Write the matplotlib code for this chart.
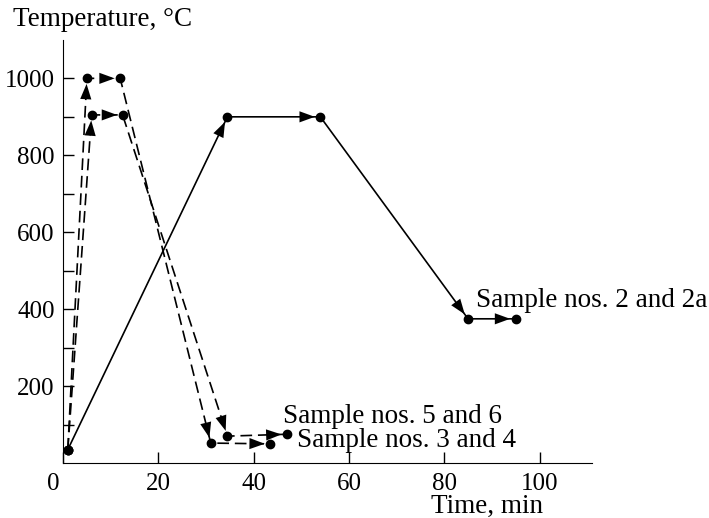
import matplotlib
matplotlib.use("Agg")
import matplotlib.pyplot as plt
from matplotlib.transforms import ScaledTranslation

plt.rcParams['font.family'] = ['Liberation Serif', 'DejaVu Serif']

# Data (time in min, temperature in °C)
t_s2 = [1, 34.5, 54, 85, 95]
T_s2 = [35, 900, 900, 375, 375]

t_s34 = [1, 5, 12, 31, 43.5]
T_s34 = [35, 1000, 1000, 52, 50]

t_s56 = [1, 6, 12.5, 34.5, 47]
T_s56 = [35, 905, 905, 70, 75]

xticks = [0, 20, 40, 60, 80, 100]
yticks = [200, 400, 600, 800, 1000]

labels = ["Sample nos. 2 and 2a", "Sample nos. 5 and 6", "Sample nos. 3 and 4"]
label_pos = [(86.6, 423), (46.1, 120), (49.1, 58)]

fig = plt.figure(figsize=(7.09, 5.18), dpi=100)
ax = fig.add_axes([0.0889, 0.106, 0.746, 0.817])

def draw(ts, Ts, dashed):
    ls = (0, (7, 3.5)) if dashed else '-'
    ax.plot(ts, Ts, color='black', lw=1.2, linestyle=ls, marker='o', ms=6,
            zorder=3)
    for i in range(len(ts) - 1):
        ax.annotate('', xy=(ts[i + 1], Ts[i + 1]), xytext=(ts[i], Ts[i]),
                    arrowprops=dict(arrowstyle='-|>,head_length=1.1,head_width=0.4',
                                    color='black', lw=0.01, shrinkA=0, shrinkB=4),
                    zorder=4)

draw(t_s2, T_s2, False)
draw(t_s34, T_s34, True)
draw(t_s56, T_s56, True)

fs = 19.5
tfs = 18
for lab, (x, y) in zip(labels, label_pos):
    ax.text(x, y, lab, fontsize=fs, ha='left', va='center')

ax.set_xlim(0, 111)
ax.set_ylim(0, 1100)
ax.spines['top'].set_visible(False)
ax.spines['right'].set_visible(False)
ax.set_xticks(xticks)
ax.set_yticks(yticks)
ax.set_yticks(list(range(100, 1100, 100)), minor=True)
ax.tick_params(axis='both', direction='in', labelsize=tfs, length=8, width=1)
ax.tick_params(axis='y', which='minor', direction='in', length=8, width=1)
ax.tick_params(axis='x', pad=7)
ax.tick_params(axis='y', pad=6)

# shift the "0" label left
lbl0 = ax.get_xticklabels()[0]
lbl0.set_transform(lbl0.get_transform() + ScaledTranslation(-10 / 100, 0, fig.dpi_scale_trans))

fig.text(13 / 709, 1 - 20 / 518, "Temperature, °C", fontsize=fs, ha='left', va='center')
fig.text(487 / 709, 1 - 506 / 518, "Time, min", fontsize=fs, ha='center', va='center')

fig.savefig("out.png", dpi=100)
